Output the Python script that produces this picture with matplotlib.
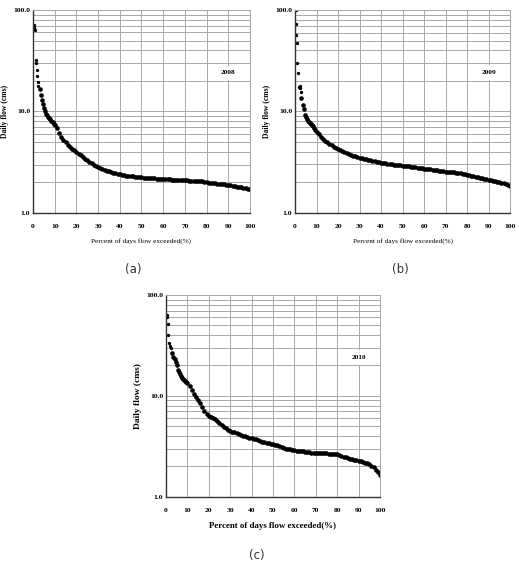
import matplotlib
matplotlib.use("Agg")
import matplotlib.pyplot as plt
from matplotlib.ticker import FixedLocator, LogLocator, NullFormatter

# ---- data (flow duration curves) ----
years = ["2008", "2009", "2010"]
captions = ["(a)", "(b)", "(c)"]

# scattered high-flow points at the very left of each curve
a_top_x = [0.5, 0.5, 0.6, 0.7, 1.2, 1.6, 1.8, 2.0, 2.2, 2.5]
a_top_y = [71, 68, 66, 63, 32, 30, 25.6, 22.3, 19.6, 18.0]
b_top_x = [0.3, 0.6, 0.6, 1.1, 1.1, 1.4, 1.9, 2.1, 2.3, 2.6]
b_top_y = [99, 72, 57, 47, 30, 24, 17.3, 17.6, 17.0, 15.4]
c_top_x = [0.3, 0.5, 1.1, 1.1, 1.6, 1.9, 2.3]
c_top_y = [63.8, 60, 51.5, 40.4, 33.4, 30.9, 29.5]

# dense part of the curves
dense_x = [3, 3.5, 4, 4.5, 5, 5.5, 6, 6.5, 7, 7.5, 8, 8.5, 9, 9.5, 10,
           11, 12, 13, 14, 15, 16, 17, 18, 19, 20,
           21, 22, 23, 24, 25, 26, 27, 28, 29, 30,
           31, 32, 33, 34, 35, 36, 37, 38, 39, 40,
           41, 42, 43, 44, 45, 46, 47, 48, 49, 50,
           51, 52, 53, 54, 55, 56, 57, 58, 59, 60,
           61, 62, 63, 64, 65, 66, 67, 68, 69, 70,
           71, 72, 73, 74, 75, 76, 77, 78, 79, 80,
           81, 82, 83, 84, 85, 86, 87, 88, 89, 90,
           91, 92, 93, 94, 95, 96, 97, 98, 99, 100]

a_y = [16.5, 14.6, 13.0, 11.8, 10.8, 10.0, 9.5, 9.2, 8.9, 8.6, 8.4, 8.1, 7.9, 7.6, 7.3,
       6.8, 6.2, 5.6, 5.2, 4.95, 4.7, 4.5, 4.3, 4.15, 4.0,
       3.85, 3.7, 3.55, 3.42, 3.3, 3.2, 3.1, 3.0, 2.92, 2.85,
       2.79, 2.73, 2.67, 2.62, 2.58, 2.54, 2.5, 2.47, 2.44, 2.41,
       2.38, 2.36, 2.34, 2.32, 2.3, 2.29, 2.27, 2.26, 2.25, 2.24,
       2.23, 2.22, 2.21, 2.2, 2.19, 2.19, 2.18, 2.17, 2.16, 2.15,
       2.15, 2.14, 2.14, 2.13, 2.12, 2.12, 2.11, 2.1, 2.1, 2.09,
       2.09, 2.08, 2.08, 2.08, 2.07, 2.07, 2.07, 2.05, 2.03, 2.0,
       1.99, 1.98, 1.97, 1.96, 1.95, 1.93, 1.92, 1.91, 1.9, 1.88,
       1.87, 1.85, 1.84, 1.82, 1.81, 1.79, 1.77, 1.76, 1.74, 1.72]

b_y = [13.5, 11.6, 10.5, 9.2, 8.8, 8.4, 8.1, 7.9, 7.7, 7.5, 7.3, 7.1, 6.8, 6.5, 6.25,
       6.0, 5.6, 5.35, 5.15, 4.95, 4.8, 4.65, 4.5, 4.38, 4.25,
       4.15, 4.05, 3.95, 3.86, 3.78, 3.71, 3.65, 3.6, 3.55, 3.5,
       3.46, 3.41, 3.37, 3.33, 3.29, 3.25, 3.22, 3.18, 3.14, 3.1,
       3.08, 3.06, 3.04, 3.02, 3.0, 2.98, 2.96, 2.95, 2.93, 2.92,
       2.9, 2.88, 2.86, 2.84, 2.82, 2.8, 2.78, 2.76, 2.74, 2.72,
       2.7, 2.69, 2.67, 2.65, 2.64, 2.62, 2.6, 2.58, 2.57, 2.55,
       2.53, 2.52, 2.51, 2.5, 2.49, 2.47, 2.44, 2.42, 2.39, 2.36,
       2.33, 2.31, 2.28, 2.26, 2.23, 2.2, 2.18, 2.16, 2.13, 2.11,
       2.09, 2.07, 2.05, 2.03, 2.01, 1.98, 1.95, 1.92, 1.88, 1.84]

c_y = [26.5, 24.5, 23.0, 21.5, 20.0, 18.2, 17.2, 16.4, 15.6, 15.0, 14.6, 14.2, 13.9, 13.6, 13.3,
       12.4, 11.3, 10.4, 9.7, 9.1, 8.4, 7.7, 7.1, 6.6, 6.3,
       6.15, 6.05, 5.9, 5.6, 5.35, 5.15, 4.95, 4.8, 4.63, 4.5,
       4.4, 4.33, 4.25, 4.17, 4.1, 4.04, 3.98, 3.92, 3.86, 3.8,
       3.75, 3.7, 3.64, 3.58, 3.52, 3.47, 3.43, 3.39, 3.35, 3.32,
       3.27, 3.22, 3.16, 3.1, 3.05, 3.0, 2.97, 2.94, 2.91, 2.89,
       2.87, 2.85, 2.83, 2.81, 2.79, 2.77, 2.75, 2.74, 2.73, 2.72,
       2.71, 2.71, 2.7, 2.7, 2.69, 2.68, 2.67, 2.66, 2.65, 2.63,
       2.6, 2.56, 2.5, 2.45, 2.42, 2.39, 2.36, 2.33, 2.3, 2.27,
       2.24, 2.21, 2.18, 2.14, 2.1, 2.03, 1.95, 1.85, 1.75, 1.64]

x_ticks = [0, 10, 20, 30, 40, 50, 60, 70, 80, 90, 100]
y_ticks = [1.0, 10.0, 100.0]

serif = "Liberation Serif"
grid_col = "#a8a8a8"


def draw_panel(ax, top_x, top_y, ys, year, small=True):
    tick_fs = 5.4
    lab_fs = 5.5 if small else 6.8
    xl_fs = 5.2 if small else 6.4
    ax.plot(top_x, top_y, "o", color="black", ms=2.4, mew=0)
    ax.plot(dense_x, ys, "o", color="black", ms=3.3, mew=0)
    ax.set_yscale("log")
    ax.set_xlim(0, 100)
    ax.set_ylim(1, 100)
    ax.xaxis.set_major_locator(FixedLocator(x_ticks))
    ax.yaxis.set_major_locator(FixedLocator(y_ticks))
    ax.yaxis.set_minor_locator(LogLocator(base=10, subs=range(2, 10)))
    ax.yaxis.set_minor_formatter(NullFormatter())
    ax.set_yticklabels(["%.1f" % v for v in y_ticks])
    ax.set_xticklabels([str(v) for v in x_ticks])
    ax.grid(True, which="both", color=grid_col, lw=0.7)
    ax.set_axisbelow(True)
    ax.tick_params(which="both", length=0)
    ax.tick_params(axis="x", pad=8)
    ax.tick_params(axis="y", pad=2)
    for lab in ax.get_xticklabels() + ax.get_yticklabels():
        lab.set_fontfamily(serif)
        lab.set_fontweight("bold")
        lab.set_fontsize(tick_fs)
    for s in ["left", "bottom"]:
        ax.spines[s].set_color("#333333")
        ax.spines[s].set_linewidth(1.0)
    for s in ["top", "right"]:
        ax.spines[s].set_color(grid_col)
        ax.spines[s].set_linewidth(0.7)
    ax.set_ylabel("Daily flow (cms)", fontfamily=serif, fontweight="bold", fontsize=lab_fs)
    ax.set_xlabel("Percent of days flow exceeded(%)", fontfamily=serif,
                  fontweight="normal" if small else "bold", fontsize=xl_fs)
    ax.yaxis.set_label_coords(-0.11, 0.5)
    ax.xaxis.set_label_coords(0.5, -0.125)
    ax.text(90, 24, year, fontfamily=serif, fontweight="bold", fontsize=5.2,
            ha="center", va="center",
            bbox=dict(facecolor="white", edgecolor="none", pad=3.5))


fig = plt.figure(figsize=(5.19, 5.63), dpi=100)

ax_a = fig.add_axes([0.0636, 0.6217, 0.418, 0.3606])
ax_b = fig.add_axes([0.5684, 0.6222, 0.4143, 0.3600])
ax_c = fig.add_axes([0.3198, 0.1178, 0.4123, 0.3582])

draw_panel(ax_a, a_top_x, a_top_y, a_y, years[0])
draw_panel(ax_b, b_top_x, b_top_y, b_y, years[1])
draw_panel(ax_c, c_top_x, c_top_y, c_y, years[2], small=False)

cap_kw = dict(fontsize=8.5, ha="center", va="center", color="#333333", family="DejaVu Sans")
fig.text(133 / 519, 1 - 270 / 563, captions[0], **cap_kw)
fig.text(400 / 519, 1 - 270 / 563, captions[1], **cap_kw)
fig.text(257 / 519, 1 - 556 / 563, captions[2], **cap_kw)

fig.savefig("out.png", dpi=100)
